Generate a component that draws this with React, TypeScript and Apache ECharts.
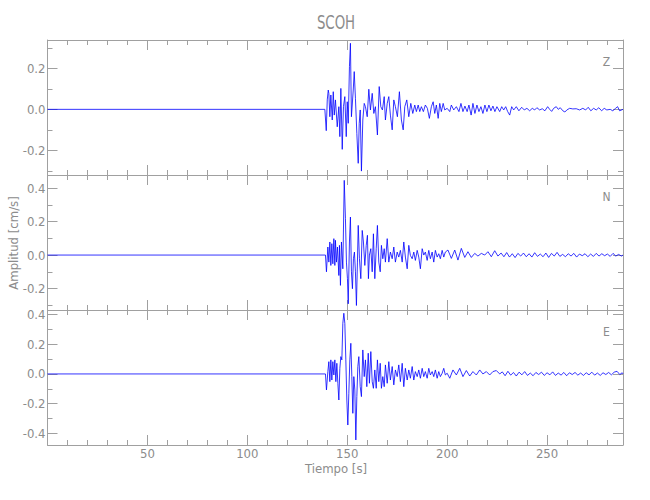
import React, { useEffect, useRef } from "react";
import * as echarts from "echarts";

const TITLE = "SCOH";
const X_NAME = "Tiempo [s]";
const Y_NAME = "Amplitud [cm/s]";
const COMPONENTS = ["Z", "N", "E"];

const X_MIN = 0;
const X_MAX = 288;
const X_MAJOR = [50, 100, 150, 200, 250];
const X_MINOR = [10, 20, 30, 40, 60, 70, 80, 90, 110, 120, 130, 140, 160, 170, 180, 190, 210, 220, 230, 240, 260, 270, 280];

const Y_RANGES = [
  [-0.32, 0.338],
  [-0.328, 0.478],
  [-0.48, 0.432],
];
const Y_MAJOR = [
  [-0.2, 0, 0.2],
  [-0.2, 0, 0.2, 0.4],
  [-0.4, -0.2, 0, 0.2, 0.4],
];
const Y_MINOR = [
  [-0.3, -0.1, 0.1, 0.3],
  [-0.3, -0.1, 0.1, 0.3],
  [-0.3, -0.1, 0.1, 0.3],
];

// [time s, amplitude cm/s]
const zTrace = [
  [0, 0], [138.8, 0], [139.5, -0.104], [140.0, 0.046], [140.5, 0.094], [140.8, 0.078], [141.3, -0.036], [141.8, 0.07],
  [142.5, -0.052], [143.0, 0.086], [143.5, -0.028], [144.1, 0.046], [145.0, -0.085], [145.8, 0.013], [146.3, -0.133],
  [146.8, 0.102], [147.5, -0.195], [148.1, 0.013], [148.8, 0.062], [149.5, -0.133], [150.0, 0.037], [150.5, -0.068],
  [151.1, 0.208], [151.6, 0.322], [152.1, -0.036], [153.0, 0.094], [153.5, 0.184], [154.1, 0.054], [154.8, -0.117],
  [155.5, -0.263], [156.0, -0.068], [156.5, -0.003], [157.1, -0.301], [157.8, -0.052], [158.5, 0.029], [159.1, 0.013],
  [160.0, -0.036], [160.8, 0.098], [161.6, -0.003], [162.5, 0.078], [163.3, -0.02], [164.1, 0.013], [165.1, -0.125],
  [166.0, 0.111], [166.8, 0.013], [167.6, -0.003], [168.5, 0.062], [169.1, -0.052], [170.0, 0.029], [170.8, 0.062],
  [171.6, -0.028], [172.5, -0.1], [173.3, 0.046], [174.1, 0.013], [175.1, -0.036], [176.1, 0.086], [177.1, -0.052],
  [178.0, -0.1], [178.8, 0.013], [179.8, 0.046], [180.8, -0.036], [181.8, 0.029], [182.8, -0.02], [183.8, 0.021],
  [184.6, -0.011], [185.5, 0.021], [186.3, -0.011], [187.1, 0.013], [188.1, -0.011], [189.1, 0.021], [190.1, 0.005],
  [191.1, -0.044], [192.1, 0.013], [193.0, 0.037], [193.8, -0.02], [194.6, 0.021], [195.5, -0.044], [196.3, 0.029],
  [197.1, -0.011], [198.0, 0.029], [198.8, -0.003], [200.0, 0.005], [201.3, -0.011], [202.1, 0.021], [203.3, -0.003],
  [204.6, 0.013], [205.9, -0.011], [206.9, 0.029], [207.9, -0.011], [208.9, 0.016], [210.0, -0.011], [210.9, 0.021],
  [212.0, -0.028], [212.9, 0.029], [213.9, -0.02], [214.9, 0.021], [215.9, -0.011], [216.9, 0.013], [217.9, -0.02],
  [218.9, 0.021], [219.9, -0.011], [220.9, 0.021], [221.9, -0.007], [222.9, 0.016], [223.9, -0.011], [224.9, 0.013],
  [226.3, -0.011], [227.3, 0.013], [228.3, -0.003], [229.3, 0.013], [230.3, -0.011], [231.3, -0.028], [232.3, 0.013],
  [233.3, -0.003], [234.6, 0.013], [235.9, -0.007], [237.3, 0.01], [238.6, -0.003], [239.9, 0.005], [241.3, -0.007],
  [242.6, 0.005], [243.8, -0.003], [244.9, 0.008], [246.3, -0.003], [247.6, 0.003], [248.9, -0.007], [250.3, 0.013],
  [251.3, 0], [252.3, -0.01], [253.3, 0.005], [254.6, 0.013], [255.6, 0], [256.6, 0.008], [257.9, -0.007],
  [258.9, -0.013], [259.9, -0.003], [261.3, 0.005], [262.9, 0.002], [264.6, 0.003], [266.3, -0.003], [267.9, 0.005],
  [269.3, -0.003], [270.6, 0.01], [271.9, -0.007], [273.3, 0.005], [274.6, -0.003], [275.9, 0.008], [277.3, -0.007],
  [278.6, 0.005], [279.9, -0.003], [281.6, 0], [282.9, -0.007], [284.3, 0.005], [285.3, 0.013], [286.3, -0.007], [288, 0],
];

const nTrace = [
  [0, 0], [139.1, 0], [139.6, -0.1], [140.3, 0.048], [140.8, -0.042], [141.3, 0.078], [141.8, -0.062], [142.3, 0.068],
  [142.8, -0.052], [143.3, 0.098], [143.8, -0.062], [144.1, 0.088], [144.6, -0.042], [145.1, 0.048], [145.8, -0.122],
  [146.1, 0.058], [146.6, -0.181], [147.1, 0.078], [147.8, -0.082], [148.5, 0.446], [149.1, 0.217], [149.6, -0.042],
  [150.1, -0.141], [150.5, -0.291], [151.1, 0.078], [151.6, 0.227], [152.1, -0.1], [152.6, -0.201], [153.1, -0.022],
  [153.6, 0.018], [154.1, -0.1], [154.6, -0.301], [155.1, -0.042], [155.5, 0.177], [156.1, -0.022], [156.8, -0.141],
  [157.5, 0.147], [158.1, 0.078], [158.8, -0.062], [159.5, 0.058], [160.1, 0.118], [160.6, -0.141], [161.1, 0],
  [161.8, 0.038], [162.5, -0.1], [163.1, 0.127], [163.8, -0.141], [164.5, 0.038], [165.1, 0.177], [165.8, -0.042],
  [166.5, -0.1], [167.1, 0.058], [167.8, -0.022], [168.5, 0.038], [169.1, -0.042], [170.0, 0.098], [170.8, -0.042],
  [171.6, 0.018], [172.5, -0.022], [173.3, 0.048], [174.1, -0.042], [175.0, 0.018], [175.8, -0.012], [176.6, 0.028],
  [177.5, -0.042], [178.3, 0.078], [179.1, -0.012], [180.0, -0.082], [180.8, 0.058], [181.6, -0.002], [182.5, -0.022],
  [183.3, 0.018], [184.1, -0.032], [185.0, 0.028], [185.8, -0.012], [186.6, -0.082], [187.5, 0.038], [188.3, 0],
  [189.1, 0.018], [190.0, -0.032], [190.8, 0.028], [191.6, -0.022], [192.5, 0.018], [193.3, -0.042], [194.1, 0.028],
  [195.0, -0.012], [195.8, 0.008], [196.6, -0.022], [197.5, 0.028], [198.3, -0.012], [199.1, 0.018], [200.4, 0.03],
  [202.1, -0.02], [203.8, 0.03], [205.4, -0.03], [207.1, 0.04], [208.8, -0.014], [210.4, 0.02], [212.1, -0.014],
  [213.8, 0.01], [215.4, -0.006], [217.1, 0.01], [218.8, 0], [220.4, 0.02], [222.1, -0.01], [223.8, 0.026],
  [225.4, -0.006], [227.0, 0.012], [228.4, -0.01], [229.8, 0.015], [231.2, -0.012], [232.6, 0.008], [234.0, -0.015],
  [235.4, 0.01], [236.8, -0.006], [238.2, 0.012], [239.6, -0.01], [241.0, 0.008], [242.4, -0.012], [243.8, 0.014],
  [245.2, -0.008], [246.6, 0.006], [248.0, -0.01], [249.4, 0.012], [250.8, -0.014], [252.2, 0.01], [253.6, -0.006],
  [255.0, 0.016], [256.4, -0.008], [257.8, 0.004], [259.2, -0.01], [260.6, 0.008], [262.0, -0.006], [263.4, 0.01],
  [264.8, -0.012], [266.2, 0.006], [267.6, -0.004], [269.0, 0.008], [270.4, -0.01], [271.8, 0.006], [273.2, -0.008],
  [274.6, 0.01], [276.0, -0.006], [277.4, 0.008], [278.8, -0.004], [280.2, 0.006], [281.6, -0.008], [283.0, 0.01],
  [284.4, -0.006], [285.8, 0.004], [287.2, -0.006], [288, 0],
];

const eTrace = [
  [0, 0], [139.1, 0], [139.6, -0.108], [140.3, 0.016], [140.8, 0.083], [141.3, -0.052], [141.8, 0.095], [142.3, -0.041],
  [142.8, 0.083], [143.3, -0.007], [143.8, 0.095], [144.3, -0.052], [144.8, 0.072], [145.3, -0.063], [145.8, -0.176],
  [146.3, 0.038], [146.8, 0.117], [147.3, 0.095], [147.8, 0.342], [148.3, 0.41], [148.8, 0.342], [149.3, 0.095],
  [149.8, -0.176], [150.3, -0.345], [150.8, -0.131], [151.3, 0.095], [151.8, 0.207], [152.3, -0.018], [152.8, -0.266],
  [153.3, -0.018], [153.8, -0.108], [154.3, -0.446], [154.8, -0.153], [155.3, 0.05], [155.8, 0.117], [156.5, -0.086],
  [157.1, -0.153], [157.8, 0.162], [158.5, -0.018], [159.1, 0.095], [159.8, -0.086], [160.5, 0.14], [161.1, -0.063],
  [161.8, 0.151], [162.5, -0.052], [163.1, -0.097], [163.8, 0.027], [164.5, -0.097], [165.1, 0.095], [165.8, -0.052],
  [166.5, 0.072], [167.1, -0.097], [167.8, -0.018], [168.5, -0.086], [169.1, 0.061], [170.0, -0.063], [170.8, 0.083],
  [171.6, -0.041], [172.5, 0.05], [173.3, -0.074], [174.1, 0.027], [175.0, -0.018], [175.8, 0.061], [176.6, -0.052],
  [177.5, 0.072], [178.3, -0.086], [179.1, 0.038], [180.0, -0.041], [180.8, 0.027], [181.6, -0.029], [182.5, 0.05],
  [183.3, -0.041], [184.1, 0.016], [185.0, -0.018], [185.8, 0.027], [186.6, -0.029], [187.5, 0.038], [188.3, -0.018],
  [189.1, 0.016], [190.0, -0.029], [190.8, 0.038], [191.6, -0.007], [192.5, 0.016], [193.3, -0.018], [194.1, 0.027],
  [195.0, -0.029], [195.8, 0.016], [196.6, -0.018], [197.5, 0.005], [198.3, 0.038], [199.1, -0.007], [200.0, 0.005],
  [201.3, -0.029], [202.9, 0.027], [204.6, -0.007], [206.3, 0.038], [207.9, -0.018], [209.6, 0.023], [211.3, -0.014],
  [212.9, 0.016], [214.6, -0.007], [216.3, 0.027], [217.9, 0], [219.6, 0.016], [221.3, -0.007], [222.9, 0.016],
  [224.6, 0.023], [226.3, 0], [227.6, 0.014], [229.0, -0.012], [230.4, 0.018], [231.8, -0.008], [233.2, 0.01],
  [234.6, -0.014], [236.0, 0.012], [237.4, -0.006], [238.8, 0.016], [240.2, -0.01], [241.6, 0.006], [243.0, -0.012],
  [244.4, 0.01], [245.8, -0.004], [247.2, 0.012], [248.6, -0.01], [250.0, 0.008], [251.4, -0.006], [252.8, 0.014],
  [254.2, -0.01], [255.6, 0.006], [257.0, -0.008], [258.4, 0.01], [259.8, -0.012], [261.2, 0.008], [262.6, -0.004],
  [264.0, 0.01], [265.4, -0.008], [266.8, 0.006], [268.2, -0.01], [269.6, 0.008], [271.0, -0.006], [272.4, 0.012],
  [273.8, -0.008], [275.2, 0.006], [276.6, -0.01], [278.0, 0.008], [279.4, -0.004], [280.8, 0.01], [282.2, -0.006],
  [283.6, 0.012], [285.0, 0.018], [286.4, -0.004], [287.6, 0.008], [288, 0],
];

const TRACES = [zTrace, nTrace, eTrace];

const FONT = "'Liberation Sans Narrow', 'DejaVu Sans Condensed', 'Liberation Sans', sans-serif";
const AXIS_COLOR = "#a0a0a0";
const TEXT_COLOR = "#8c8c8c";
const LINE_COLOR = "#0000ff";

const GRID_LEFT = 47.5;
const GRID_WIDTH = 575.5;
const GRID_TOP = 40;
const PANEL_H = 135;

export default function App() {
  const ref = useRef<HTMLDivElement | null>(null);

  useEffect(() => {
    if (!ref.current) return;
    const chart = echarts.init(ref.current, undefined, { renderer: "svg" });

    const grids = COMPONENTS.map((_, i) => ({
      left: GRID_LEFT,
      top: GRID_TOP + i * PANEL_H,
      width: GRID_WIDTH,
      height: PANEL_H,
    }));

    const xAxes: any[] = [];
    const yAxes: any[] = [];
    COMPONENTS.forEach((_, i) => {
      const xBase = {
        gridIndex: i,
        type: "value",
        min: X_MIN,
        max: X_MAX,
        splitLine: { show: false },
      };
      (["bottom", "top"] as const).forEach((pos) => {
        xAxes.push({
          ...xBase,
          position: pos,
          axisLine: { show: true, onZero: false, lineStyle: { color: AXIS_COLOR, width: 1 } },
          axisTick: { show: true, inside: true, length: 10, customValues: X_MAJOR, lineStyle: { color: AXIS_COLOR } },
          axisLabel: {
            show: pos === "bottom" && i === COMPONENTS.length - 1,
            customValues: X_MAJOR,
            color: TEXT_COLOR,
            fontFamily: FONT,
            fontSize: 13,
            margin: 2,
            formatter: (v: number) => String(v),
          },
        });
        xAxes.push({
          ...xBase,
          position: pos,
          axisLine: { show: false, onZero: false },
          axisTick: { show: true, inside: true, length: 5, customValues: X_MINOR, lineStyle: { color: AXIS_COLOR } },
          axisLabel: { show: false },
        });
      });
      const yBase = {
        gridIndex: i,
        type: "value",
        min: Y_RANGES[i][0],
        max: Y_RANGES[i][1],
        splitLine: { show: false },
      };
      (["left", "right"] as const).forEach((pos) => {
        yAxes.push({
          ...yBase,
          position: pos,
          axisLine: { show: true, onZero: false, lineStyle: { color: AXIS_COLOR, width: 1 } },
          axisTick: { show: true, inside: true, length: 10, customValues: Y_MAJOR[i], lineStyle: { color: AXIS_COLOR } },
          axisLabel: {
            show: pos === "left",
            customValues: Y_MAJOR[i],
            color: TEXT_COLOR,
            fontFamily: FONT,
            fontSize: 13,
            margin: 2,
            formatter: (v: number) => v.toFixed(1),
          },
        });
        yAxes.push({
          ...yBase,
          position: pos,
          axisLine: { show: false, onZero: false },
          axisTick: { show: true, inside: true, length: 5, customValues: Y_MINOR[i], lineStyle: { color: AXIS_COLOR } },
          axisLabel: { show: false },
        });
      });
    });

    const series = TRACES.map((tr, i) => ({
      type: "line",
      name: COMPONENTS[i],
      xAxisIndex: i * 4,
      yAxisIndex: i * 4,
      data: tr,
      showSymbol: false,
      symbol: "none",
      silent: true,
      clip: true,
      lineStyle: { color: LINE_COLOR, width: 0.8 },
    }));

    const graphic: any[] = [
      {
        type: "text",
        x: 336,
        y: 22.5,
        scaleX: 0.78,
        style: {
          text: TITLE,
          fill: TEXT_COLOR,
          font: `19px ${FONT}`,
          textAlign: "center",
          textVerticalAlign: "middle",
        },
      },
      {
        type: "text",
        x: 336,
        y: 468,
        style: {
          text: X_NAME,
          fill: TEXT_COLOR,
          font: `13px ${FONT}`,
          textAlign: "center",
          textVerticalAlign: "middle",
        },
      },
      {
        type: "text",
        x: 13,
        y: 243,
        rotation: Math.PI / 2,
        style: {
          text: Y_NAME,
          fill: TEXT_COLOR,
          font: `13px ${FONT}`,
          textAlign: "center",
          textVerticalAlign: "middle",
        },
      },
      ...COMPONENTS.map((c, i) => ({
        type: "text",
        x: 606.5,
        y: 61.5 + i * PANEL_H,
        style: {
          text: c,
          fill: TEXT_COLOR,
          font: `12px ${FONT}`,
          textAlign: "center",
          textVerticalAlign: "middle",
        },
      })),
    ];

    chart.setOption({
      animation: false,
      backgroundColor: "#ffffff",
      grid: grids,
      xAxis: xAxes,
      yAxis: yAxes,
      series,
      graphic,
    });

    return () => chart.dispose();
  }, []);

  return (
    <div
      ref={ref}
      style={{ position: "absolute", left: 0, top: 0, width: 650, height: 500 }}
    />
  );
}
